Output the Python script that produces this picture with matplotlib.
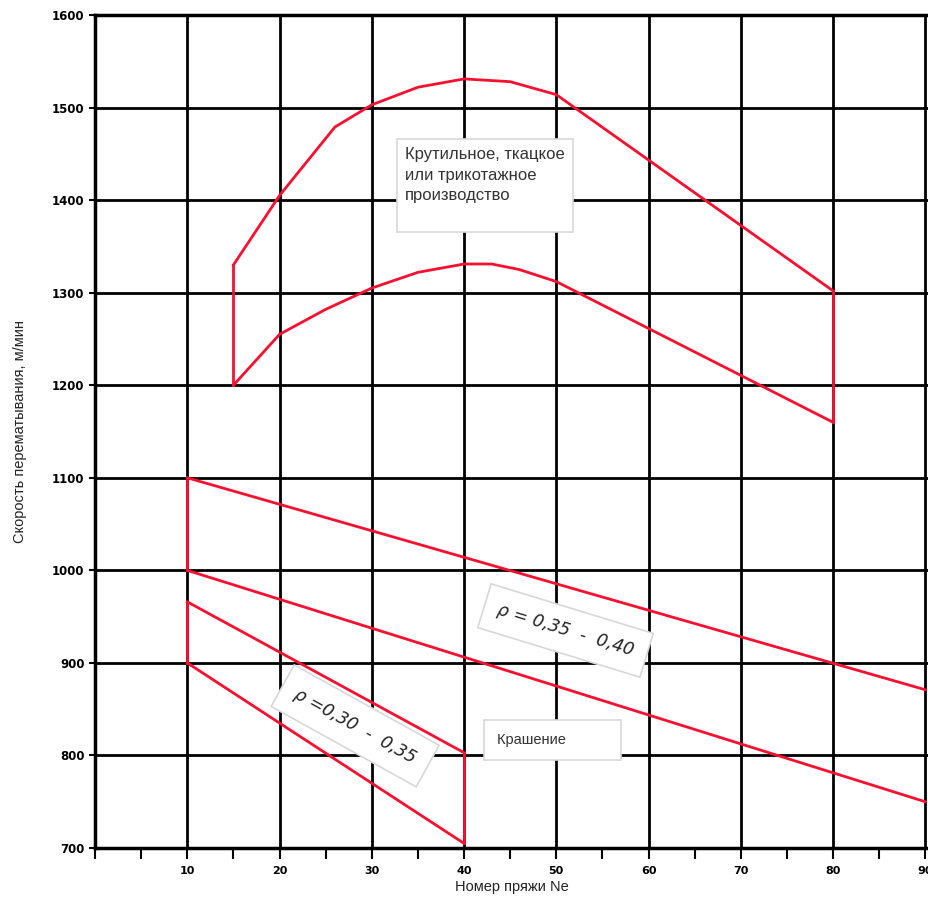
import matplotlib.pyplot as plt
from matplotlib.ticker import MultipleLocator

# upper zone: twisting / weaving / knitting
up_x = [15, 20, 26, 30, 35, 40, 45, 50, 80]
up_top = [1330, 1405, 1479, 1503, 1522, 1531, 1528, 1514, 1302]
up_x2 = [15, 20, 25, 30, 35, 40, 43, 46, 50, 80]
up_bot = [1200, 1255, 1282, 1305, 1322, 1331, 1331, 1325, 1312, 1160]

# rho = 0.35 - 0.40 band
b1_x = [10, 90]
b1_top = [1100, 871]
b1_bot = [1000, 750]

# rho = 0.30 - 0.35 band (dyeing)
b2_x = [10, 40]
b2_top = [966, 803]
b2_bot = [900, 705]

red = '#f7102f'
lw = 2.0
narrow = 'Liberation Sans'

fig = plt.figure(figsize=(9.29, 9.06), dpi=100)
ax = fig.add_axes([0.1023, 0.064, 0.8977, 0.9194])

ax.plot(up_x, up_top, color=red, lw=lw, zorder=3)
ax.plot(up_x2, up_bot, color=red, lw=lw, zorder=3)
ax.plot([up_x[0], up_x[0]], [up_bot[0], up_top[0]], color=red, lw=lw, zorder=3)
ax.plot([up_x[-1], up_x[-1]], [up_bot[-1], up_top[-1]], color=red, lw=lw, zorder=3)

ax.plot(b1_x, b1_top, color=red, lw=lw, zorder=3)
ax.plot(b1_x, b1_bot, color=red, lw=lw, zorder=3)
ax.plot([b1_x[0], b1_x[0]], [b1_bot[0], b1_top[0]], color=red, lw=lw, zorder=3)

ax.plot(b2_x, b2_top, color=red, lw=lw, zorder=3)
ax.plot(b2_x, b2_bot, color=red, lw=lw, zorder=3)
ax.plot([b2_x[0], b2_x[0]], [b2_bot[0], b2_top[0]], color=red, lw=lw, zorder=3)
ax.plot([b2_x[-1], b2_x[-1]], [b2_bot[-1], b2_top[-1]], color=red, lw=lw, zorder=3)

ax.set_xlim(0, 90.4)
ax.set_ylim(700, 1600)
ax.xaxis.set_major_locator(MultipleLocator(10))
ax.xaxis.set_minor_locator(MultipleLocator(5))
ax.yaxis.set_major_locator(MultipleLocator(100))
ax.set_xticks(range(10, 91, 10))
ax.grid(True, which='major', color='black', lw=2.0)
ax.set_axisbelow(True)
for s in ['left', 'bottom', 'top']:
    ax.spines[s].set_linewidth(2.5)
ax.spines['right'].set_visible(False)
ax.tick_params(axis='x', which='major', length=8, width=1.5, labelsize=8, pad=5)
ax.tick_params(axis='x', which='minor', length=8, width=1.5)
ax.tick_params(axis='y', length=4, width=1.5, labelsize=8.5)
for t in ax.get_xticklabels() + ax.get_yticklabels():
    t.set_fontweight('bold')

ax.set_xlabel('Номер пряжи Ne', fontsize=10.5, labelpad=3, family=narrow, color='#222222')
ax.set_ylabel('Скорость перематывания, м/мин', fontsize=10.5, labelpad=18, family=narrow,
              color='#222222')

ax.text(33.6, 1457, 'Крутильное, ткацкое\nили трикотажное\nпроизводство\n', fontsize=12,
        family=narrow, color='#333333', va='top', ha='left', linespacing=1.45,
        bbox=dict(boxstyle='square,pad=0.5', fc='white', ec='#d8d8d8', lw=1.2),
        zorder=4)
ax.text(51.0, 935, 'ρ = 0,35  -  0,40', fontsize=12.5, style='italic', rotation=-17,
        color='#222222', ha='center', va='center',
        bbox=dict(boxstyle='square,pad=0.8', fc='white', ec='#d8d8d8', lw=1.2), zorder=4)
ax.text(28.2, 832, 'ρ =0,30  -  0,35', fontsize=12.5, style='italic', rotation=-29,
        color='#222222', ha='center', va='center',
        bbox=dict(boxstyle='square,pad=0.85', fc='white', ec='#d8d8d8', lw=1.2), zorder=4)
ax.text(43.6, 817, 'Крашение          ', fontsize=10.5, family=narrow, color='#333333',
        ha='left', va='center',
        bbox=dict(boxstyle='square,pad=0.9', fc='white', ec='#d8d8d8', lw=1.2), zorder=4)

fig.savefig('out.png', dpi=100)
